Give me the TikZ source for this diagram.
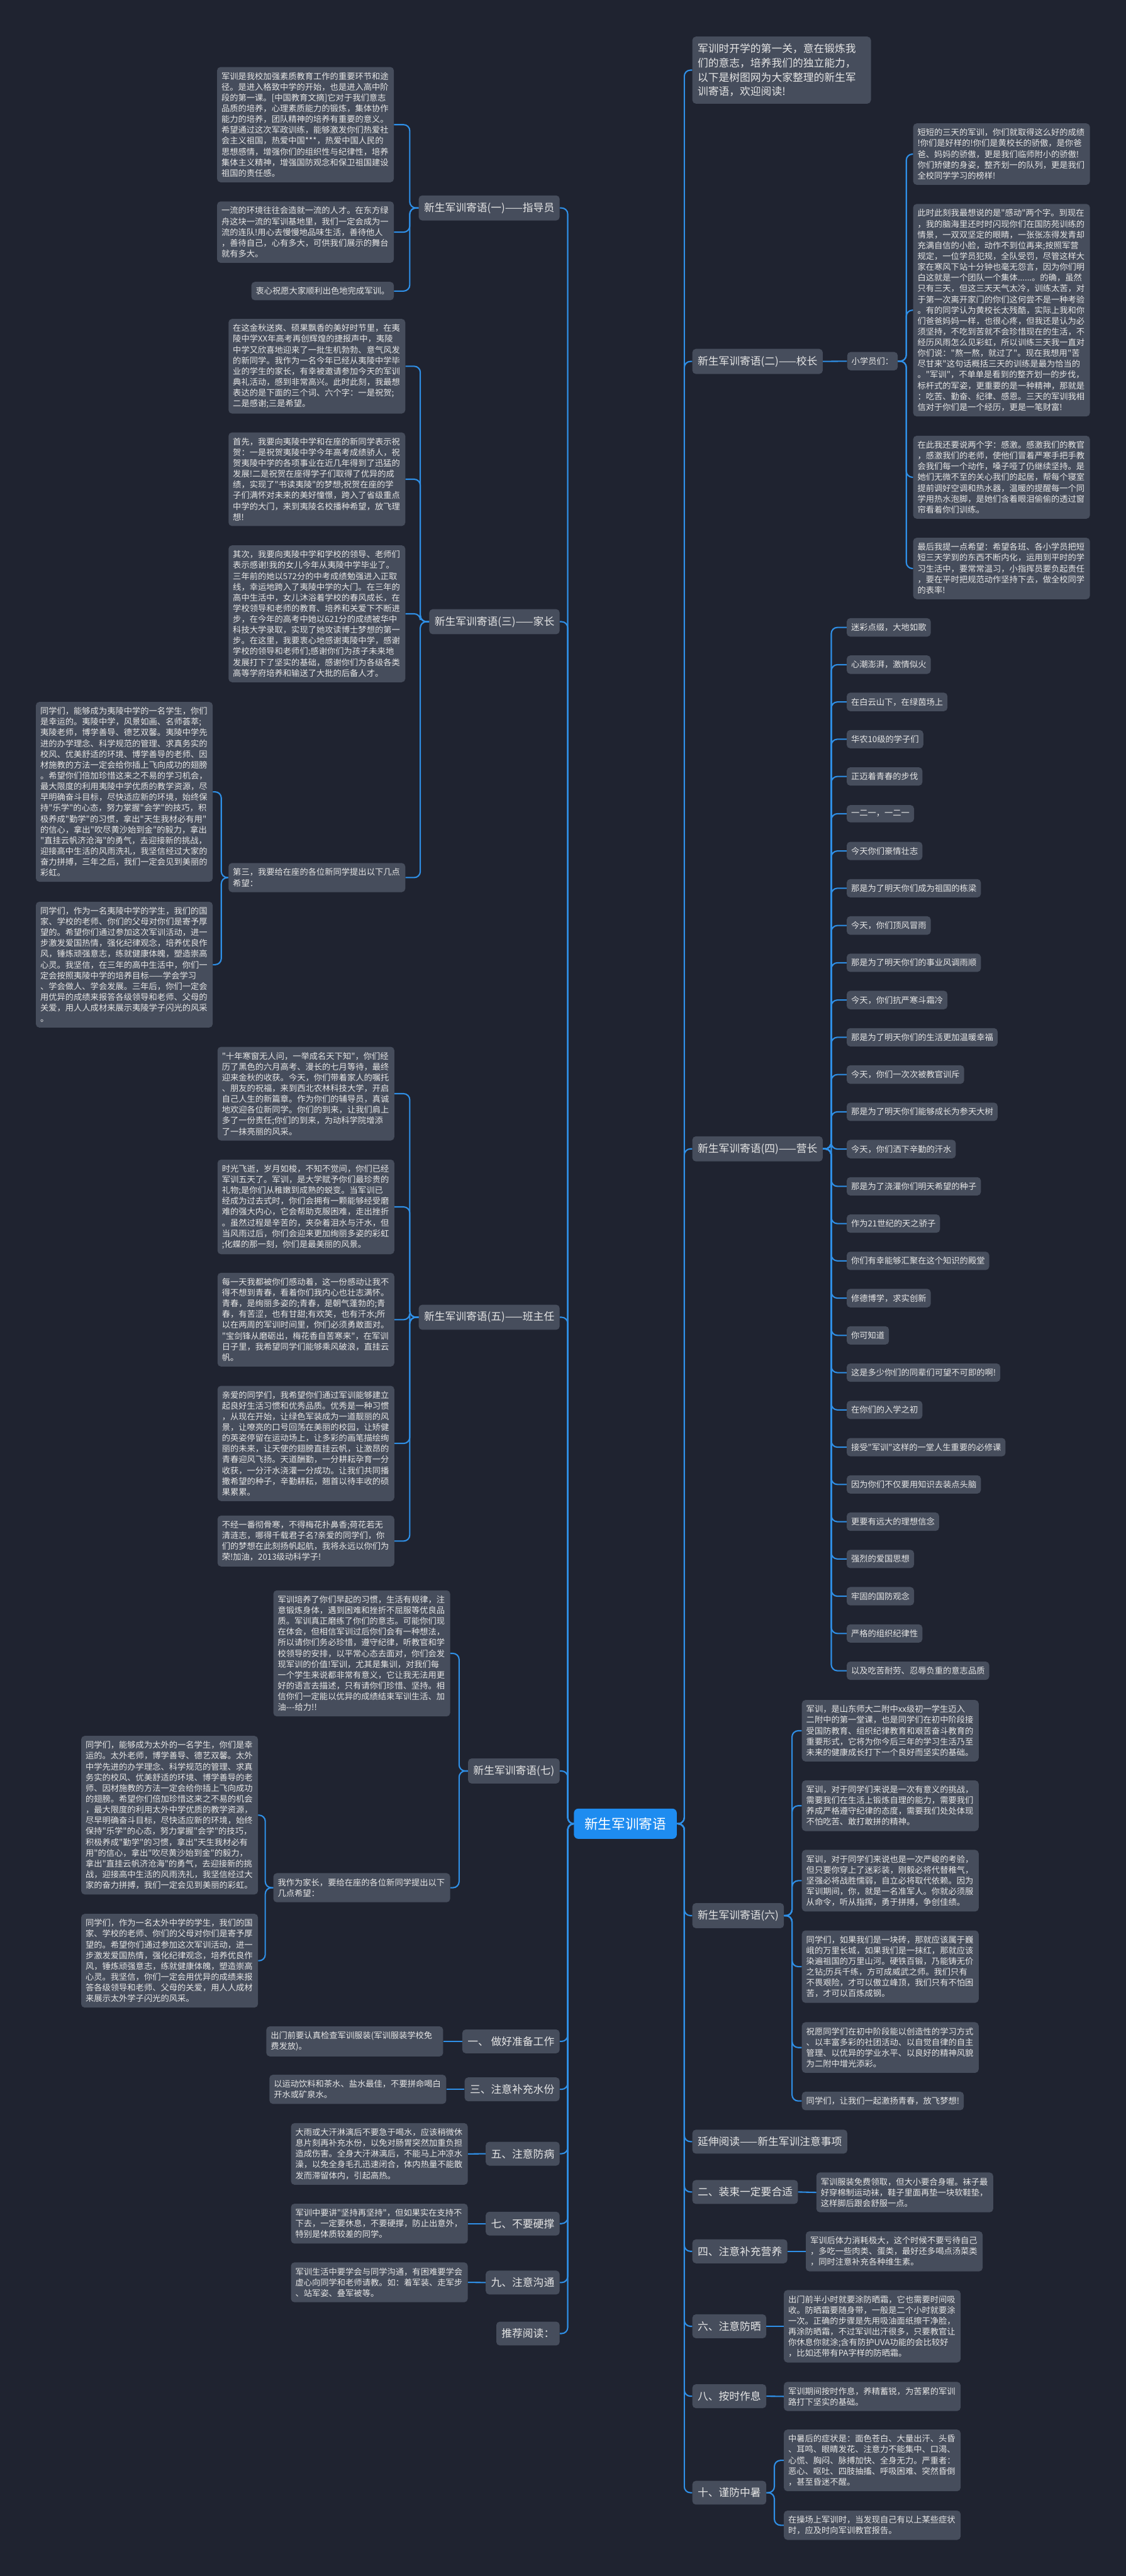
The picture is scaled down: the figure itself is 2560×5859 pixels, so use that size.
\documentclass[tikz,border=0pt]{standalone}
\usepackage{fontspec}
\newfontfamily\cjk{Noto Sans CJK SC}
\usetikzlibrary{calc}
\definecolor{bgc}{HTML}{1F2330}
\definecolor{boxc}{HTML}{464D5C}
\definecolor{txtc}{HTML}{E6E6E6}
\definecolor{linec}{HTML}{2F8FE6}
\definecolor{ctrc}{HTML}{1E8CF0}
\tikzset{
  base/.style={rounded corners=4pt, fill=boxc, text=txtc, font={\cjk\fontsize{9.5}{12.25}\selectfont}, inner xsep=5pt, inner ysep=6pt},
  para/.style={base, text width=191pt, align=left},
  mainn/.style={base, font={\cjk\fontsize{12}{16.25}\selectfont}, inner xsep=6pt, inner ysep=8pt},
  conn/.style={draw=linec, line width=1.5pt, rounded corners=7pt},
}
\newcommand\LC[3]{\draw[conn] (#1.west) -- ($(#1.west)+(-#3,0)$) |- (#2.east);}
\newcommand\RC[3]{\draw[conn] (#1.east) -- ($(#1.east)+(#3,0)$) |- (#2.west);}
\begin{document}
\begin{tikzpicture}[x=0.5pt,y=-0.5pt]
\fill[bgc] (0,0) rectangle (2560,5859);
\useasboundingbox (0,0) rectangle (2560,5859);
\coordinate (tL) at (1291,0);
\coordinate (tR) at (1556,0);

% center
\node[fill=ctrc, text=white, rounded corners=5pt, font={\cjk\fontsize{15.5}{18}\selectfont}, inner xsep=12pt, inner ysep=10pt] (ctr) at (1422,4148) {新生军训寄语};

% ===== LEFT: (一)
\node[mainn, anchor=east] (n1) at (1273,473) {新生军训寄语(一)——指导员};
\node[para, anchor=east] (a1) at (896,283.5) {军训是我校加强素质教育工作的重要环节和途\\径。是进入格致中学的开始，也是进入高中阶\\段的第一课。[中国教育文摘]它对于我们意志\\品质的培养，心理素质能力的锻炼，集体协作\\能力的培养，团队精神的培养有重要的意义。\\希望通过这次军政训练，能够激发你们热爱社\\会主义祖国，热爱中国***，热爱中国人民的\\思想感情，增强你们的组织性与纪律性，培养\\集体主义精神，增强国防观念和保卫祖国建设\\祖国的责任感。};
\node[para, anchor=east] (a2) at (896,528) {一流的环境往往会造就一流的人才。在东方绿\\舟这块一流的军训基地里，我们一定会成为一\\流的连队!用心去慢慢地品味生活，善待他人\\，善待自己，心有多大，可供我们展示的舞台\\就有多大。};
\node[base, anchor=east] (a3) at (896,662) {衷心祝愿大家顺利出色地完成军训。};
\LC{n1}{a1}{20}\LC{n1}{a2}{20}\LC{n1}{a3}{20}

% ===== (三)
\node[mainn, anchor=east] (n3) at (1273,1414) {新生军训寄语(三)——家长};
\node[para, anchor=east] (b1) at (922,833) {在这金秋送爽、硕果飘香的美好时节里，在夷\\陵中学XX年高考再创辉煌的捷报声中，夷陵\\中学又欣喜地迎来了一批生机勃勃、意气风发\\的新同学。我作为一名今年已经从夷陵中学毕\\业的学生的家长，有幸被邀请参加今天的军训\\典礼活动，感到非常高兴。此时此刻，我最想\\表达的是下面的三个词、六个字：一是祝贺;\\二是感谢;三是希望。};
\node[para, anchor=east] (b2) at (922,1090) {首先，我要向夷陵中学和在座的新同学表示祝\\贺：一是祝贺夷陵中学今年高考成绩骄人，祝\\贺夷陵中学的各项事业在近几年得到了迅猛的\\发展!二是祝贺在座得学子们取得了优异的成\\绩，实现了"书读夷陵"的梦想;祝贺在座的学\\子们满怀对未来的美好憧憬，跨入了省级重点\\中学的大门，来到夷陵名校播种希望，放飞理\\想!};
\node[para, anchor=east] (b3) at (922,1396) {其次，我要向夷陵中学和学校的领导、老师们\\表示感谢!我的女儿今年从夷陵中学毕业了。\\三年前的她以572分的中考成绩勉强进入正取\\线，幸运地跨入了夷陵中学的大门。在三年的\\高中生活中，女儿沐浴着学校的春风成长，在\\学校领导和老师的教育、培养和关爱下不断进\\步，在今年的高考中她以621分的成绩被华中\\科技大学录取，实现了她攻读博士梦想的第一\\步。在这里，我要衷心地感谢夷陵中学，感谢\\学校的领导和老师们;感谢你们为孩子未来地\\发展打下了坚实的基础，感谢你们为各级各类\\高等学府培养和输送了大批的后备人才。};
\node[para, anchor=east] (b4) at (922,1996) {第三，我要给在座的各位新同学提出以下几点\\希望：};
\LC{n3}{b1}{20}\LC{n3}{b2}{20}\LC{n3}{b3}{20}\LC{n3}{b4}{20}
\node[para, anchor=east] (b5) at (484,1801) {同学们，能够成为夷陵中学的一名学生，你们\\是幸运的。夷陵中学，风景如画、名师荟萃;\\夷陵老师，博学善导、德艺双馨。夷陵中学先\\进的办学理念、科学规范的管理、求真务实的\\校风、优美舒适的环境、博学善导的老师、因\\材施教的方法一定会给你插上飞向成功的翅膀\\。希望你们倍加珍惜这来之不易的学习机会，\\最大限度的利用夷陵中学优质的教学资源，尽\\早明确奋斗目标，尽快适应新的环境，始终保\\持"乐学"的心态，努力掌握"会学"的技巧，积\\极养成"勤学"的习惯，拿出"天生我材必有用"\\的信心，拿出"吹尽黄沙始到金"的毅力，拿出\\"直挂云帆济沧海"的勇气，去迎接新的挑战，\\迎接高中生活的风雨洗礼，我坚信经过大家的\\奋力拼搏，三年之后，我们一定会见到美丽的\\彩虹。};
\node[para, anchor=east] (b6) at (484,2194) {同学们，作为一名夷陵中学的学生，我们的国\\家、学校的老师、你们的父母对你们是寄予厚\\望的。希望你们通过参加这次军训活动，进一\\步激发爱国热情，强化纪律观念，培养优良作\\风，锤炼顽强意志，练就健康体魄，塑造崇高\\心灵。我坚信，在三年的高中生活中，你们一\\定会按照夷陵中学的培养目标——学会学习\\、学会做人、学会发展。三年后，你们一定会\\用优异的成绩来报答各级领导和老师、父母的\\关爱，用人人成材来展示夷陵学子闪光的风采\\。};
\LC{b4}{b5}{16}\LC{b4}{b6}{16}

% ===== (五)
\node[mainn, anchor=east] (n5) at (1273,2996) {新生军训寄语(五)——班主任};
\node[para, anchor=east] (c1) at (897,2487.5) {"十年寒窗无人问，一举成名天下知"，你们经\\历了黑色的六月高考、漫长的七月等待，最终\\迎来金秋的收获。今天，你们带着家人的嘱托\\、朋友的祝福，来到西北农林科技大学，开启\\自己人生的新篇章。作为你们的辅导员，真诚\\地欢迎各位新同学。你们的到来，让我们肩上\\多了一份责任;你们的到来，为动科学院增添\\了一抹亮丽的风采。};
\node[para, anchor=east] (c2) at (897,2745) {时光飞逝，岁月如梭，不知不觉间，你们已经\\军训五天了。军训，是大学赋予你们最珍贵的\\礼物;是你们从稚嫩到成熟的蜕变。当军训已\\经成为过去式时，你们会拥有一颗能够经受磨\\难的强大内心，它会帮助克服困难，走出挫折\\。虽然过程是辛苦的，夹杂着泪水与汗水，但\\当风雨过后，你们会迎来更加绚丽多姿的彩虹\\;化蝶的那一刻，你们是最美丽的风景。};
\node[para, anchor=east] (c3) at (897,3001.5) {每一天我都被你们感动着，这一份感动让我不\\得不想到青春，看着你们我内心也壮志满怀。\\青春，是绚丽多姿的;青春，是朝气蓬勃的;青\\春，有苦涩，也有甘甜;有欢笑，也有汗水;所\\以在两周的军训时间里，你们必须勇敢面对。\\"宝剑锋从磨砺出，梅花香自苦寒来"，在军训\\日子里，我希望同学们能够乘风破浪，直挂云\\帆。};
\node[para, anchor=east] (c4) at (897,3283) {亲爱的同学们，我希望你们通过军训能够建立\\起良好生活习惯和优秀品质。优秀是一种习惯\\，从现在开始，让绿色军装成为一道靓丽的风\\景，让嘹亮的口号回荡在美丽的校园，让矫健\\的英姿停留在运动场上，让多彩的画笔描绘绚\\丽的未来，让天使的翅膀直挂云帆，让激昂的\\青春迎风飞扬。天道酬勤，一分耕耘孕育一分\\收获，一分汗水浇灌一分成功。让我们共同播\\撒希望的种子，辛勤耕耘，翘首以待丰收的硕\\果累累。};
\node[para, anchor=east] (c5) at (897,3505) {不经一番彻骨寒，不得梅花扑鼻香;荷花若无\\清涟志，哪得千载君子名?亲爱的同学们，你\\们的梦想在此刻扬帆起航，我将永远以你们为\\荣!加油，2013级动科学子!};
\LC{n5}{c1}{20}\LC{n5}{c2}{20}\LC{n5}{c3}{20}\LC{n5}{c4}{20}\LC{n5}{c5}{20}

% ===== (七)
\node[mainn, anchor=east] (n7) at (1273,4028) {新生军训寄语(七)};
\node[para, anchor=east] (d1) at (1024,3760.5) {军训培养了你们早起的习惯，生活有规律，注\\意锻炼身体，遇到困难和挫折不屈服等优良品\\质。军训真正磨练了你们的意志。可能你们现\\在体会，但相信军训过后你们会有一种想法，\\所以请你们务必珍惜，遵守纪律，听教官和学\\校领导的安排，以平常心态去面对，你们会发\\现军训的价值!军训，尤其是集训，对我们每\\一个学生来说都非常有意义，它让我无法用更\\好的语言去描述，只有请你们珍惜、坚持。相\\信你们一定能以优异的成绩结束军训生活、加\\油---给力!!};
\node[para, anchor=east] (d2) at (1024,4293.5) {我作为家长，要给在座的各位新同学提出以下\\几点希望：};
\LC{n7}{d1}{20}\LC{n7}{d2}{20}
\node[para, anchor=east] (d3) at (587,4128.5) {同学们，能够成为太外的一名学生，你们是幸\\运的。太外老师，博学善导、德艺双馨。太外\\中学先进的办学理念、科学规范的管理、求真\\务实的校风、优美舒适的环境、博学善导的老\\师、因材施教的方法一定会给你插上飞向成功\\的翅膀。希望你们倍加珍惜这来之不易的机会\\，最大限度的利用太外中学优质的教学资源，\\尽早明确奋斗目标，尽快适应新的环境，始终\\保持"乐学"的心态，努力掌握"会学"的技巧，\\积极养成"勤学"的习惯，拿出"天生我材必有\\用"的信心，拿出"吹尽黄沙始到金"的毅力，\\拿出"直挂云帆济沧海"的勇气，去迎接新的挑\\战，迎接高中生活的风雨洗礼，我坚信经过大\\家的奋力拼搏，我们一定会见到美丽的彩虹。};
\node[para, anchor=east] (d4) at (587,4459.5) {同学们，作为一名太外中学的学生，我们的国\\家、学校的老师、你们的父母对你们是寄予厚\\望的。希望你们通过参加这次军训活动，进一\\步激发爱国热情，强化纪律观念，培养优良作\\风，锤炼顽强意志，练就健康体魄，塑造崇高\\心灵。我坚信，你们一定会用优异的成绩来报\\答各级领导和老师、父母的关爱，用人人成材\\来展示太外学子闪光的风采。};
\LC{d2}{d3}{18}\LC{d2}{d4}{18}

% ===== bottom left
\node[mainn, anchor=east] (s1) at (1273,4643) {一、 做好准备工作};
\node[para, anchor=east] (s1b) at (1008,4643) {出门前要认真检查军训服装(军训服装学校免\\费发放)。};
\node[mainn, anchor=east] (s3) at (1273,4752) {三、注意补充水份};
\node[para, anchor=east] (s3b) at (1015,4752) {以运动饮料和茶水、盐水最佳，不要拼命喝白\\开水或矿泉水。};
\node[mainn, anchor=east] (s5) at (1273,4898.5) {五、注意防病};
\node[para, anchor=east] (s5b) at (1064,4899) {大雨或大汗淋漓后不要急于喝水，应该稍微休\\息片刻再补充水份，以免对肠胃突然加重负担\\造成伤害。全身大汗淋漓后，不能马上冲凉水\\澡，以免全身毛孔迅速闭合，体内热量不能散\\发而滞留体内，引起高热。};
\node[mainn, anchor=east] (s7) at (1273,5057.5) {七、不要硬撑};
\node[para, anchor=east] (s7b) at (1064,5057.5) {军训中要讲"坚持再坚持"，但如果实在支持不\\下去，一定要休息，不要硬撑，防止出意外，\\特别是体质较差的同学。};
\node[mainn, anchor=east] (s9) at (1273,5191.5) {九、注意沟通};
\node[para, anchor=east] (s9b) at (1064,5191) {军训生活中要学会与同学沟通，有困难要学会\\虚心向同学和老师请教。如：着军装、走军步\\、站军姿、叠军被等。};
\node[mainn, anchor=east] (rec) at (1273,5307.5) {推荐阅读：};
\foreach \a in {s1,s3,s5,s7,s9} {\draw[conn] (\a b.east) -- (\a.west);}

% left main connectors
\foreach \a in {n1,n3,n5,n7,s1,s3,s5,s7,s9,rec} {\draw[conn] (ctr.west) -- (ctr.west -| tL) |- (\a.east);}

% ===== RIGHT
\node[mainn, anchor=west, text width=191pt, align=left] (intro) at (1574,159.5) {军训时开学的第一关，意在锻炼我\\们的意志，培养我们的独立能力，\\以下是树图网为大家整理的新生军\\训寄语，欢迎阅读!};
\node[mainn, anchor=west] (n2) at (1574,822) {新生军训寄语(二)——校长};
\node[base, anchor=west] (xy) at (1926,821.5) {小学员们：};
\draw[conn] (n2.east) -- (xy.west);
\node[para, anchor=west] (p1) at (2076,350.5) {短短的三天的军训，你们就取得这么好的成绩\\!你们是好样的!你们是黄校长的骄傲，是你爸\\爸、妈妈的骄傲，更是我们临师附小的骄傲!\\你们矫健的身姿，整齐划一的队列，更是我们\\全校同学学习的榜样!};
\node[para, anchor=west] (p2) at (2076,705.5) {此时此刻我最想说的是"感动"两个字。到现在\\，我的脑海里还时时闪现你们在国防苑训练的\\情景，一双双坚定的眼睛，一张张冻得发青却\\充满自信的小脸，动作不到位再来;按照军营\\规定，一位学员犯规，全队受罚，尽管这样大\\家在寒风下站十分钟也毫无怨言，因为你们明\\白这就是一个团队一个集体......。的确，虽然\\只有三天，但这三天天气太冷，训练太苦，对\\于第一次离开家门的你们这何尝不是一种考验\\。有的同学认为黄校长太残酷，实际上我和你\\们爸爸妈妈一样，也很心疼，但我还是认为必\\须坚持，不吃到苦就不会珍惜现在的生活，不\\经历风雨怎么见彩虹，所以训练三天我一直对\\你们说："熬一熬，就过了"。现在我想用"苦\\尽甘来"这句话概括三天的训练是最为恰当的\\。"军训"，不单单是看到的整齐划一的步伐，\\标杆式的军姿，更重要的是一种精神，那就是\\：吃苦、勤奋、纪律、感恩。三天的军训我相\\信对于你们是一个经历，更是一笔财富!};
\node[para, anchor=west] (p3) at (2076,1085.5) {在此我还要说两个字：感激。感激我们的教官\\，感激我们的老师，使他们冒着严寒手把手教\\会我们每一个动作，嗓子哑了仍继续坚持。是\\她们无微不至的关心我们的起居，帮每个寝室\\提前调好空调和热水器，温暖的提醒每一个同\\学用热水泡脚，是她们含着眼泪偷偷的透过窗\\帘看着你们训练。};
\node[para, anchor=west] (p4) at (2076,1293) {最后我提一点希望：希望各班、各小学员把短\\短三天学到的东西不断内化，运用到平时的学\\习生活中，要常常温习，小指挥员要负起责任\\，要在平时把规范动作坚持下去，做全校同学\\的表率!};
\RC{xy}{p1}{19}\RC{xy}{p2}{19}\RC{xy}{p3}{19}\RC{xy}{p4}{19}

% (四)
\node[mainn, anchor=west] (n4) at (1574,2613) {新生军训寄语(四)——营长};
\foreach \t [count=\i] in {{迷彩点缀，大地如歌},{心潮澎湃，激情似火},{在白云山下，在绿茵场上},{华农10级的学子们},{正迈着青春的步伐},{一二一，一二一},{今天你们豪情壮志},{那是为了明天你们成为祖国的栋梁},{今天，你们顶风冒雨},{那是为了明天你们的事业风调雨顺},{今天，你们抗严寒斗霜冷},{那是为了明天你们的生活更加温暖幸福},{今天，你们一次次被教官训斥},{那是为了明天你们能够成长为参天大树},{今天，你们洒下辛勤的汗水},{那是为了浇灌你们明天希望的种子},{作为21世纪的天之骄子},{你们有幸能够汇聚在这个知识的殿堂},{修德博学，求实创新},{你可知道},{这是多少你们的同辈们可望不可即的啊!},{在你们的入学之初},{接受"军训"这样的一堂人生重要的必修课},{因为你们不仅要用知识去装点头脑},{更要有远大的理想信念},{强烈的爱国思想},{牢固的国防观念},{严格的组织纪律性},{以及吃苦耐劳、忍辱负重的意志品质}} {
  \node[base, anchor=west] (it\i) at (1925,{1427+84.75*(\i-1)}) {\t};
  \RC{n4}{it\i}{19}
}

% (六)
\node[mainn, anchor=west] (n6) at (1574,4357) {新生军训寄语(六)};
\node[para, anchor=west] (q1) at (1823,3936.5) {军训，是山东师大二附中xx级初一学生迈入\\二附中的第一堂课，也是同学们在初中阶段接\\受国防教育、组织纪律教育和艰苦奋斗教育的\\重要形式，它将为你今后三年的学习生活乃至\\未来的健康成长打下一个良好而坚实的基础。};
\node[para, anchor=west] (q2) at (1823,4107) {军训，对于同学们来说是一次有意义的挑战，\\需要我们在生活上锻炼自理的能力，需要我们\\养成严格遵守纪律的态度，需要我们处处体现\\不怕吃苦、敢打敢拼的精神。};
\node[para, anchor=west] (q3) at (1823,4277.5) {军训，对于同学们来说也是一次严峻的考验，\\但只要你穿上了迷彩装，刚毅必将代替稚气，\\坚强必将战胜懦弱，自立必将取代依赖。因为\\军训期间，你，就是一名准军人。你就必须服\\从命令，听从指挥，勇于拼搏，争创佳绩。};
\node[para, anchor=west] (q4) at (1823,4473) {同学们，如果我们是一块砖，那就应该属于巍\\峨的万里长城，如果我们是一抹红，那就应该\\染遍祖国的万里山河。硬铁百锻，乃能铸无价\\之钻;历兵千练，方可成威武之师。我们只有\\不畏艰险，才可以傲立峰顶，我们只有不怕困\\苦，才可以百炼成钢。};
\node[para, anchor=west] (q5) at (1823,4657) {祝愿同学们在初中阶段能以创造性的学习方式\\、以丰富多彩的社团活动、以自觉自律的自主\\管理、以优异的学业水平、以良好的精神风貌\\为二附中增光添彩。};
\node[base, anchor=west] (q6) at (1823,4778.5) {同学们，让我们一起激扬青春，放飞梦想!};
\foreach \a in {q1,q2,q3,q4,q5,q6} {\RC{n6}{\a}{18}}

% bottom right
\node[mainn, anchor=west] (ext) at (1574,4871) {延伸阅读——新生军训注意事项};
\node[mainn, anchor=west] (r2) at (1574,4985.5) {二、装束一定要合适};
\node[para, anchor=west] (r2b) at (1856,4986.5) {军训服装免费领取，但大小要合身喔。袜子最\\好穿棉制运动袜，鞋子里面再垫一块软鞋垫，\\这样脚后跟会舒服一点。};
\node[mainn, anchor=west] (r4) at (1574,5120.5) {四、注意补充营养};
\node[para, anchor=west] (r4b) at (1832,5120.5) {军训后体力消耗极大，这个时候不要亏待自己\\，多吃一些肉类、蛋类，最好还多喝点汤菜类\\，同时注意补充各种维生素。};
\node[mainn, anchor=west] (r6) at (1574,5291) {六、注意防晒};
\node[para, anchor=west] (r6b) at (1782,5291) {出门前半小时就要涂防晒霜，它也需要时间吸\\收。防晒霜要随身带，一般是二个小时就要涂\\一次。正确的步骤是先用吸油面纸擦干净脸，\\再涂防晒霜，不过军训出汗很多，只要教官让\\你休息你就涂;含有防护UVA功能的会比较好\\，比如还带有PA字样的防晒霜。};
\node[mainn, anchor=west] (r8) at (1574,5450) {八、按时作息};
\node[para, anchor=west] (r8b) at (1782,5450.5) {军训期间按时作息，养精蓄锐，为苦累的军训\\路打下坚实的基础。};
\node[mainn, anchor=west] (r10) at (1574,5669.5) {十、谨防中暑};
\node[para, anchor=west] (r10a) at (1782,5596) {中暑后的症状是：面色苍白、大量出汗、头昏\\、耳鸣、眼睛发花、注意力不能集中、口渴、\\心慌、胸闷、脉搏加快、全身无力。严重者：\\恶心、呕吐、四肢抽搐、呼吸困难、突然昏倒\\，甚至昏迷不醒。};
\node[para, anchor=west] (r10b) at (1782,5743.5) {在操场上军训时，当发现自己有以上某些症状\\时，应及时向军训教官报告。};
\foreach \a in {r2,r4,r6,r8} {\draw[conn] (\a.east) -- (\a b.west);}
\RC{r10}{r10a}{18}\RC{r10}{r10b}{18}

% right main connectors
\foreach \a in {intro,n2,n4,n6,ext,r2,r4,r6,r8,r10} {\draw[conn] (ctr.east) -- (ctr.east -| tR) |- (\a.west);}
\end{tikzpicture}
\end{document}
